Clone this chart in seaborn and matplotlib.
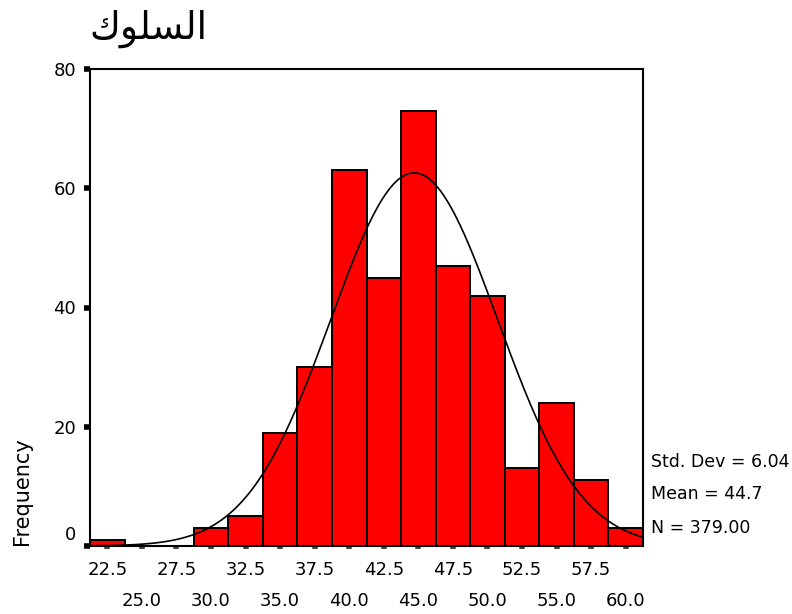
import numpy as np
import pandas as pd
import matplotlib
matplotlib.use("Agg")
import matplotlib.pyplot as plt
import matplotlib.transforms as mtransforms
import seaborn as sns

# Data
bin_centers = [22.5, 25.0, 27.5, 30.0, 32.5, 35.0, 37.5, 40.0, 42.5, 45.0,
               47.5, 50.0, 52.5, 55.0, 57.5, 60.0]
counts = [1, 0, 0, 3, 5, 19, 30, 63, 45, 73, 47, 42, 13, 24, 11, 3]
tick_labels = ["22.5", "25.0", "27.5", "30.0", "32.5", "35.0", "37.5", "40.0",
               "42.5", "45.0", "47.5", "50.0", "52.5", "55.0", "57.5", "60.0"]
y_ticks = [0, 20, 40, 60, 80]
std_dev = 6.04
mean = 44.7
n_total = 379.00
bin_width = 2.5
title_text = "السلوك"
# visual-order Arabic presentation forms (matplotlib has no text shaping)
title_visual = "\uFED9\uFEEE\uFEE0\uFEB4\uFEDF\uFE8D"

sns.set_theme(style="white")
plt.rcParams["font.family"] = ["DejaVu Sans"]
plt.rcParams["text.color"] = "black"
plt.rcParams["xtick.color"] = "black"
plt.rcParams["ytick.color"] = "black"

fig = plt.figure(figsize=(7.92, 6.14), dpi=100)
ax = fig.add_axes([90 / 792, 1 - 546 / 614, (643 - 90) / 792, (546 - 69) / 614])

df = pd.DataFrame({"value": bin_centers, "count": counts})
edges = [c - bin_width / 2 for c in bin_centers] + [bin_centers[-1] + bin_width / 2]
sns.histplot(data=df, x="value", weights="count", bins=edges, ax=ax,
             color="#FF0000", alpha=1.0, edgecolor="black", linewidth=1.4)

# Normal curve
xs = np.linspace(edges[0], edges[-1], 400)
ys = n_total * bin_width / (std_dev * np.sqrt(2 * np.pi)) * np.exp(-0.5 * ((xs - mean) / std_dev) ** 2)
sns.lineplot(x=xs, y=ys, ax=ax, color="black", linewidth=1.2)

ax.set_xlim(edges[0], edges[-1])
ax.set_ylim(0, 80)
ax.set_xlabel("")
ax.set_ylabel("")

for s in ax.spines.values():
    s.set_color("black")
    s.set_linewidth(1.5)

ax.set_yticks(y_ticks)
ax.set_yticklabels([str(v) for v in y_ticks], fontsize=13, color="black")
ax.tick_params(axis="y", direction="out", length=4, width=4, color="black", pad=6, left=True)

# alternating rows of x labels: major ticks = first row, minor ticks = second row
ax.set_xticks(bin_centers[0::2])
ax.set_xticklabels(tick_labels[0::2], fontsize=13, color="black")
ax.set_xticks(bin_centers[1::2], minor=True)
ax.set_xticklabels(tick_labels[1::2], minor=True, fontsize=13, color="black")
ax.tick_params(axis="x", which="major", direction="out", length=2, width=4,
               color="#444444", pad=9, bottom=True)
ax.tick_params(axis="x", which="minor", direction="out", length=2, width=4,
               color="#444444", pad=31, bottom=True)

# shift the "0" label up a bit like the reference
lbl0 = ax.get_yticklabels()[0]
lbl0.set_transform(lbl0.get_transform() + mtransforms.ScaledTranslation(0, 9 / 72, fig.dpi_scale_trans))

fig.text(89 / 792, 1 - 10 / 614, title_visual, fontsize=27, ha="left", va="top",
         family=["DejaVu Sans"], color="black")

fig.text(22 / 792, 1 - 545 / 614, "Frequency", rotation=90, fontsize=15,
         ha="center", va="bottom", color="black")

fig.text(651 / 792, 1 - 462 / 614, f"Std. Dev = {std_dev:.2f}", fontsize=12.5, ha="left", va="center")
fig.text(651 / 792, 1 - 494 / 614, f"Mean = {mean:.1f}", fontsize=12.5, ha="left", va="center")
fig.text(651 / 792, 1 - 528 / 614, f"N = {n_total:.2f}", fontsize=12.5, ha="left", va="center")

fig.savefig("out.png", dpi=100, facecolor="white")
